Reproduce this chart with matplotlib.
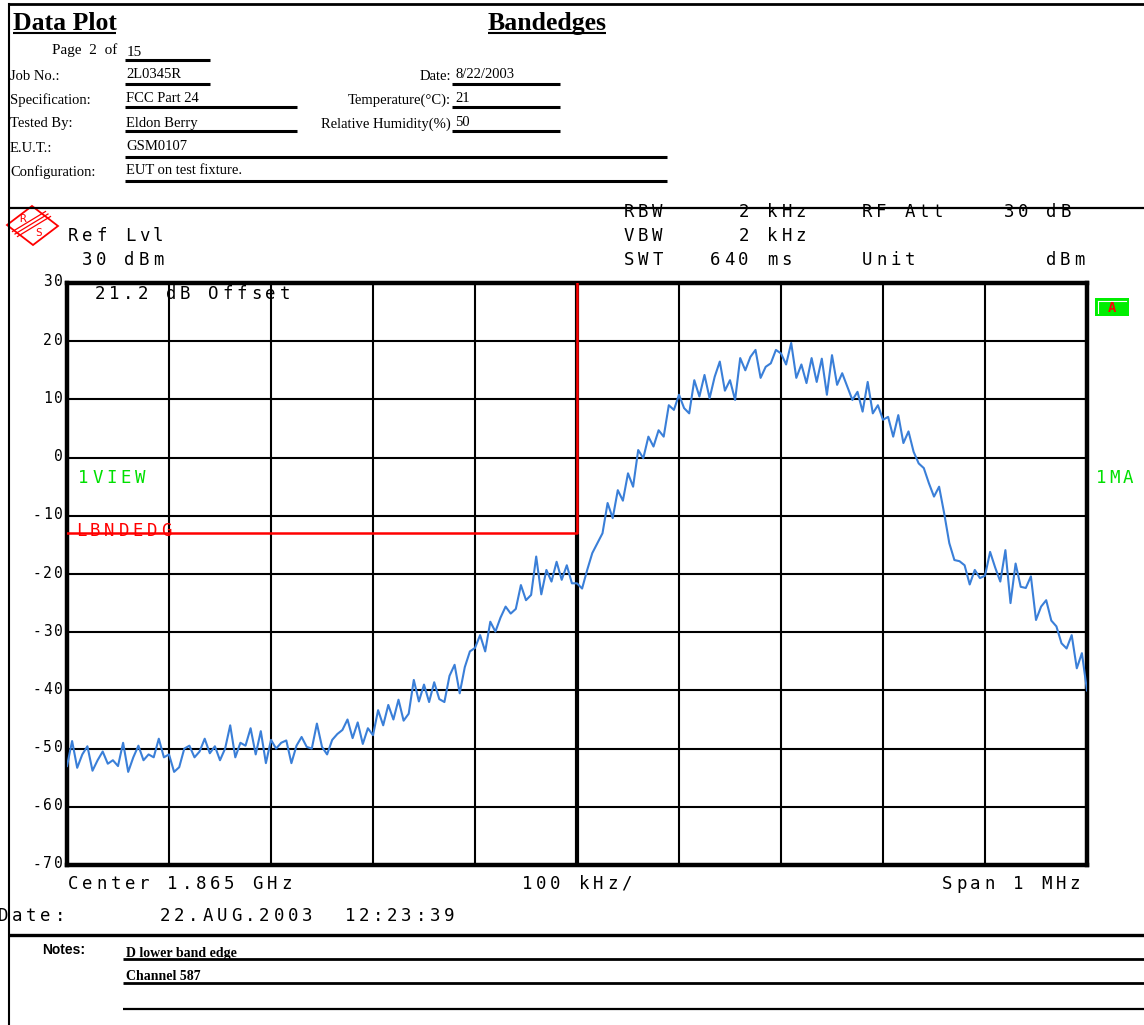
import numpy as np
import matplotlib.pyplot as plt
from matplotlib.patches import Polygon, Rectangle

# -----------------------------
# Trace data
# 5 kHz steps, -500 .. +500 kHz around 1.865 GHz, level in dBm
# -----------------------------
level_dbm = [
    # -500 .. -405
    -53.0, -48.7, -53.3, -51.0, -49.6, -53.8, -52.0, -50.5, -52.6, -52.0,
    -53.0, -49.0, -54.0, -51.5, -49.5, -52.0, -51.0, -51.5, -48.3, -51.5,
    # -400 .. -305
    -51.0, -54.0, -53.2, -50.0, -49.5, -51.5, -50.5, -48.3, -50.8, -49.6,
    -52.0, -50.0, -46.0, -51.5, -49.0, -49.5, -46.5, -51.0, -47.0, -52.5,
    # -300 .. -205
    -48.5, -50.0, -49.0, -48.6, -52.5, -49.5, -48.0, -49.7, -50.0, -45.7,
    -49.7, -51.0, -48.5, -47.5, -46.8, -45.0, -48.2, -45.5, -49.2, -46.5,
    # -200 .. -105
    -47.7, -43.4, -46.0, -42.5, -45.0, -41.6, -45.2, -44.0, -38.2, -41.9,
    -39.0, -42.0, -38.6, -41.5, -42.0, -37.5, -35.6, -40.5, -36.0, -33.3,
    # -100 .. -5
    -32.7, -30.5, -33.3, -28.2, -29.9, -27.5, -25.6, -26.8, -26.0, -21.9,
    -24.5, -23.6, -17.0, -23.5, -19.3, -21.3, -17.9, -21.0, -18.5, -21.6,
    # 0 .. 95
    -21.6, -22.5, -19.3, -16.4, -14.7, -13.0, -7.8, -10.4, -5.6, -7.4,
    -2.7, -5.0, 1.3, -0.1, 3.6, 1.9, 4.7, 3.6, 9.0, 8.2,
    # 100 .. 195
    10.8, 8.5, 7.6, 13.3, 10.5, 14.2, 10.2, 13.9, 16.5, 11.5,
    13.3, 9.9, 17.1, 15.0, 17.3, 18.5, 13.7, 15.6, 16.2, 18.5,
    # 200 .. 295
    17.9, 16.0, 19.7, 13.7, 16.0, 12.8, 17.1, 13.0, 17.0, 10.8,
    17.6, 12.5, 14.5, 12.2, 9.9, 11.3, 7.9, 13.0, 7.6, 9.0,
    # 300 .. 395
    6.5, 7.0, 3.6, 7.3, 2.5, 4.5, 1.0, -1.0, -1.8, -4.4,
    -6.7, -5.0, -9.6, -14.7, -17.6, -17.8, -18.5, -21.8, -19.3, -20.7,
    # 400 .. 500
    -20.3, -16.2, -18.9, -21.3, -15.9, -25.0, -18.2, -22.2, -22.4, -20.4,
    -27.9, -25.6, -24.5, -28.0, -29.0, -31.9, -32.8, -30.5, -36.2, -33.6,
    -40.0,
]
freq_khz = np.linspace(-500, 500, len(level_dbm))

# band edge limit line (LBNDEDG)
limit_freq = [-500, 0, 0]
limit_dbm = [-13, -13, 30]

y_ticks = [30, 20, 10, 0, -10, -20, -30, -40, -50, -60, -70]
y_tick_labels = ["30", "20", "10", "0", "-10", "-20", "-30", "-40", "-50", "-60", "-70"]

# header form
left_labels = ["Job No.:", "Specification:", "Tested By:", "E.U.T.:", "Configuration:"]
left_values = ["2L0345R", "FCC Part 24", "Eldon Berry", "GSM0107", "EUT on test fixture."]
right_labels = ["Date:", "Temperature(\u00b0C):", "Relative Humidity(%)"]
right_values = ["8/22/2003", "21", "50"]
notes = ["D lower band edge", "Channel 587"]

# -----------------------------
# Figure
# -----------------------------
W, H = 1144, 1025
fig = plt.figure(figsize=(W / 100, H / 100), dpi=100)

# plot area in pixels
px0, px1, py0, py1 = 67, 1087, 283, 865
ax = fig.add_axes([px0 / W, 1 - py1 / H, (px1 - px0) / W, (py1 - py0) / H])
ax.set_xlim(-500, 500)
ax.set_ylim(-70, 30)
ax.set_xticks(np.arange(-500, 501, 100))
ax.set_yticks(y_ticks)
ax.tick_params(length=0, labelbottom=False, labelleft=False)
ax.grid(True, color='black', lw=1.5)
for s in ax.spines.values():
    s.set_linewidth(3.2)
ax.axvline(0, color='black', lw=3.0, zorder=1.5)

ax.plot(freq_khz, level_dbm, color='#3a7fd8', lw=1.5, zorder=3)
ax.plot(limit_freq, limit_dbm, color='red', lw=1.8, zorder=4)

# overlay in pixel coordinates for all the printed text
ax0 = fig.add_axes([0, 0, 1, 1])
ax0.set_xlim(0, W)
ax0.set_ylim(H, 0)
ax0.axis('off')
ax0.set_zorder(5)

serif = 'Liberation Serif'


def hline(x1, x2, y, lw=2.0):
    ax0.plot([x1, x2], [y, y], color='black', lw=lw, solid_capstyle='butt')


def mono(x, y, s, color='black', pitch=14.2, size=12.5, weight='normal'):
    # instrument font: fixed character cells
    for i, ch in enumerate(s):
        if ch != ' ':
            ax0.text(x + i * pitch + pitch / 2, y, ch, ha='center', va='center',
                     fontsize=size, family='DejaVu Sans Mono', color=color,
                     fontweight=weight)


# page frame
hline(8, W, 4, lw=2.0)
ax0.plot([8.5, 8.5], [4, H], color='black', lw=1.5)

# titles
ax0.text(13, 30, "Data Plot", fontsize=18.5, family=serif, fontweight='bold', va='baseline')
hline(13, 116, 33, lw=1.5)
ax0.text(488, 30, "Bandedges", fontsize=18.5, family=serif, fontweight='bold', va='baseline')
hline(488, 606, 33, lw=1.5)

ax0.text(52, 50, "Page  2  of", fontsize=11, family=serif, va='center')
ax0.text(127, 52, "15", fontsize=11, family=serif, va='center')
hline(125, 210, 60, lw=2.2)

row_y = [76, 100, 124, 148, 172]
line_y = [84, 107, 131, 157, 181]
line_end = [210, 297, 297, 667, 667]
for i in range(len(left_labels)):
    ax0.text(10, row_y[i], left_labels[i], fontsize=10.5, family=serif, va='center')
    ax0.text(126, row_y[i] - 1, left_values[i], fontsize=10.5, family=serif, va='center')
    hline(125, line_end[i], line_y[i], lw=2.2)
for i in range(len(right_labels)):
    ax0.text(451, row_y[i], right_labels[i], fontsize=10.5, family=serif, va='center', ha='right')
    ax0.text(455, row_y[i] - 1, right_values[i], fontsize=10.5, family=serif, va='center')
    hline(452, 560, line_y[i], lw=2.2)

hline(8, W, 207.5, lw=1.6)

# R&S logo
ax0.add_patch(Polygon([(7, 225), (32, 206), (58, 226), (33, 245)], closed=True,
                      fill=False, edgecolor='red', lw=1.3))
for d in (-2.5, 0, 2.5):
    ax0.plot([15 + d, 48 + d], [234 + d, 214 + d], color='red', lw=0.9)
ax0.text(23, 219, "R", color='red', fontsize=8, family='DejaVu Sans Mono', ha='center', va='center')
ax0.text(39, 233, "S", color='red', fontsize=8, family='DejaVu Sans Mono', ha='center', va='center')

# instrument settings
mono(66, 236, "Ref Lvl")
mono(80, 260, "30 dBm")
mono(622, 212, "RBW")
mono(737, 212, "2 kHz")
mono(860, 212, "RF Att")
mono(1002, 212, "30 dB")
mono(622, 236, "VBW")
mono(737, 236, "2 kHz")
mono(622, 260, "SWT")
mono(708, 260, "640 ms")
mono(860, 260, "Unit")
mono(1044, 260, "dBm")

# y scale labels
for v, lab in zip(y_ticks, y_tick_labels):
    yp = py0 + (30 - v) / 100 * (py1 - py0)
    mono(64 - len(lab) * 11, yp - 1, lab, pitch=11, size=10.5)

mono(93, 294, "21.2 dB Offset")
mono(76, 478, "1VIEW", color='#00e000')
mono(1094, 478, "1MA", color='#00e000', pitch=13.5)
mono(74, 531, "LBNDEDG", color='red')

# marker "A" box
ax0.add_patch(Rectangle((1095, 298), 34, 18, facecolor='#00ee00', edgecolor='none'))
ax0.plot([1098, 1126], [301, 301], color='white', lw=0.8)
ax0.plot([1098, 1098], [301, 313], color='white', lw=0.8)
ax0.text(1112, 307.5, "A", color='red', fontsize=10, family='DejaVu Sans Mono',
         fontweight='bold', ha='center', va='center')

# x axis annotation
mono(66, 884, "Center 1.865 GHz")
mono(520, 884, "100 kHz/")
mono(940, 884, "Span 1 MHz")
mono(-4, 916, "Date:")
mono(158, 916, "22.AUG.2003  12:23:39")

# notes
hline(8, W, 935, lw=2.4)
ax0.text(42, 950, "Notes:", fontsize=10, family='Liberation Sans', fontweight='bold', va='center')
ax0.text(126, 954, notes[0], fontsize=10, family=serif, fontweight='bold', va='center')
hline(123, W, 959, lw=2.0)
ax0.text(126, 977, notes[1], fontsize=10, family=serif, fontweight='bold', va='center')
hline(123, W, 983, lw=2.0)
hline(123, W, 1009, lw=1.6)

fig.savefig('out.png', dpi=100)
